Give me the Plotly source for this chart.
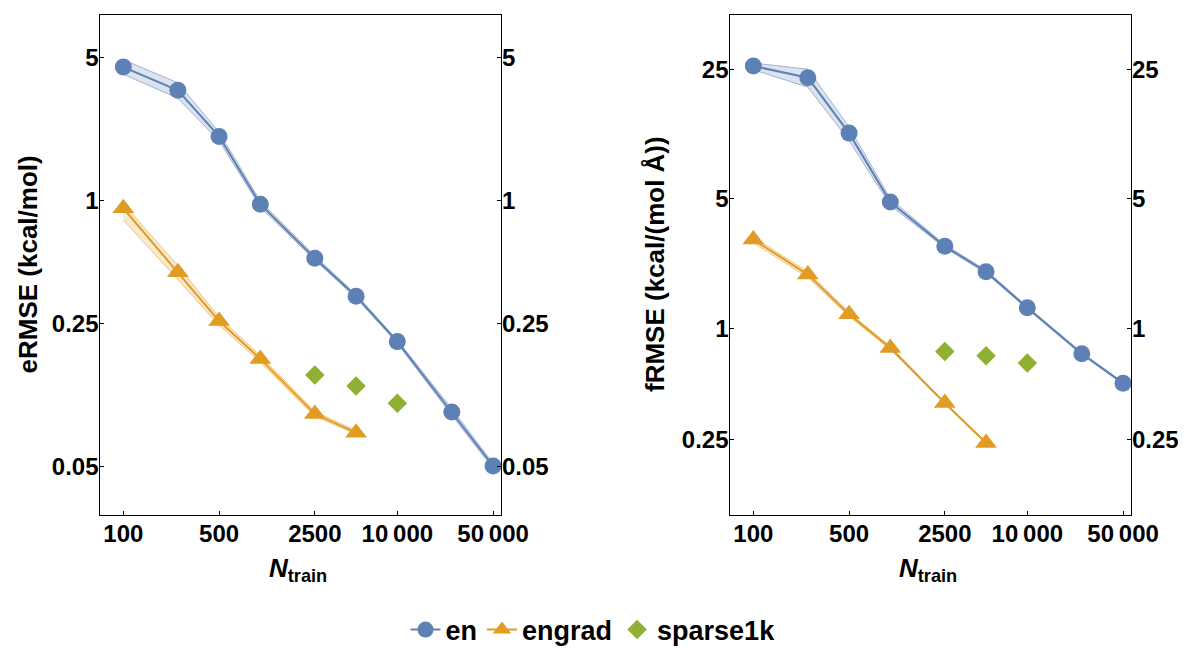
import plotly.graph_objects as go

# ---------------- data ----------------
n_en = [100, 250, 500, 1000, 2500, 5000, 10000, 25000, 50000]
n_engrad = [100, 250, 500, 1000, 2500, 5000]
n_sparse = [2500, 5000, 10000]

# energy RMSE (kcal/mol)
e_en = [4.47, 3.44, 2.05, 0.956, 0.521, 0.340, 0.204, 0.0924, 0.0504]
e_en_lo = [4.12, 3.15, 1.95, 0.925, 0.51, 0.333, 0.200, 0.089, 0.049]
e_en_hi = [4.85, 3.75, 2.15, 0.99, 0.535, 0.347, 0.208, 0.096, 0.052]
e_engrad = [0.914, 0.445, 0.257, 0.168, 0.0904, 0.0733]
e_engrad_lo = [0.80, 0.41, 0.245, 0.162, 0.088, 0.072]
e_engrad_hi = [0.96, 0.48, 0.268, 0.174, 0.093, 0.075]
e_sparse = [0.140, 0.124, 0.102]

# force RMSE (kcal/(mol Å))
f_en = [26.0, 22.5, 11.3, 4.80, 2.77, 2.02, 1.29, 0.729, 0.506]
f_en_lo = [24.8, 20.0, 10.3, 4.6, 2.72, 1.98, 1.27, 0.72, 0.50]
f_en_hi = [27.0, 25.0, 12.2, 5.0, 2.83, 2.06, 1.31, 0.74, 0.512]
f_engrad = [3.01, 1.95, 1.19, 0.783, 0.395, 0.241]
f_engrad_lo = [2.9, 1.88, 1.16, 0.77, 0.39, 0.238]
f_engrad_hi = [3.1, 2.02, 1.22, 0.80, 0.40, 0.244]
f_sparse = [0.750, 0.711, 0.650]

x_tickvals = [100, 500, 2500, 10000, 50000]
x_ticktext = ["100", "500", "2500", "10\u2009000", "50\u2009000"]
e_tickvals = [0.05, 0.25, 1, 5]
e_ticktext = ["0.05", "0.25", "1", "5"]
f_tickvals = [0.25, 1, 5, 25]
f_ticktext = ["0.25", "1", "5", "25"]

# ---------------- style ----------------
BLUE = "#5E81B5"
ORANGE = "#E19C24"
GREEN = "#8FB032"
FONT = "Liberation Sans"
# the page body has an 8px margin, so the figure is drawn at (8, 8)
OFF = 8
W, H = 1186 - OFF, 648 - OFF


def px(xpix):
    return (xpix - OFF) / W


def py(ypix):
    return 1 - (ypix - OFF) / H


fig = go.Figure()


def band(xs, lo, hi, color_rgb, xa, ya):
    fig.add_trace(go.Scatter(
        x=list(xs) + list(xs)[::-1],
        y=list(hi) + list(lo)[::-1],
        mode="lines", fill="toself",
        fillcolor="rgba(%d,%d,%d,0.22)" % color_rgb,
        line=dict(color="rgba(%d,%d,%d,0.55)" % color_rgb, width=1),
        hoverinfo="skip", showlegend=False, xaxis=xa, yaxis=ya))


blue_rgb = (94, 129, 181)
orange_rgb = (225, 156, 36)

panels = [
    ("x", "y", e_en, e_en_lo, e_en_hi, e_engrad, e_engrad_lo, e_engrad_hi, e_sparse, True),
    ("x2", "y2", f_en, f_en_lo, f_en_hi, f_engrad, f_engrad_lo, f_engrad_hi, f_sparse, False),
]
for xa, ya, en, enlo, enhi, eg, eglo, eghi, sp, leg in panels:
    band(n_en, enlo, enhi, blue_rgb, xa, ya)
    band(n_engrad, eglo, eghi, orange_rgb, xa, ya)
    fig.add_trace(go.Scatter(
        x=n_en, y=en, mode="lines+markers", name="en",
        line=dict(color=BLUE, width=2),
        marker=dict(symbol="circle", size=17, color=BLUE),
        showlegend=leg, legendgroup="en", xaxis=xa, yaxis=ya))
    fig.add_trace(go.Scatter(
        x=n_engrad, y=eg, mode="lines+markers", name="engrad",
        line=dict(color=ORANGE, width=2),
        marker=dict(symbol="triangle-up", size=19, color=ORANGE),
        showlegend=leg, legendgroup="engrad", xaxis=xa, yaxis=ya))
    fig.add_trace(go.Scatter(
        x=n_sparse, y=sp, mode="markers", name="sparse1k",
        marker=dict(symbol="diamond", size=15, color=GREEN),
        showlegend=leg, legendgroup="sparse1k", xaxis=xa, yaxis=ya))

# invisible traces so the mirrored right-hand axes are drawn
fig.add_trace(go.Scatter(x=[100], y=[1], mode="markers", marker=dict(opacity=0),
                         hoverinfo="skip", showlegend=False, xaxis="x", yaxis="y3"))
fig.add_trace(go.Scatter(x=[100], y=[1], mode="markers", marker=dict(opacity=0),
                         hoverinfo="skip", showlegend=False, xaxis="x2", yaxis="y4"))

tickfont = dict(family=FONT, size=24, color="black", weight="bold")

xdom1 = [px(99.5), px(501)]
xdom2 = [px(729.5), px(1131)]
ydom = [py(515), py(14.5)]
xrange_ = [1.826, 4.757]
erange = [-1.537, 0.907]
frange = [-1.007, 1.693]

common_x = dict(type="log", range=xrange_, tickvals=x_tickvals, ticktext=x_ticktext,
                ticks="inside", ticklen=4, tickwidth=1, tickcolor="black",
                showline=True, linecolor="black", linewidth=1.3, mirror=True,
                showgrid=False, zeroline=False, tickfont=tickfont, automargin=False,
                ticklabelstandoff=-3)
common_y = dict(type="log", ticks="inside", ticklen=4, tickwidth=1, tickcolor="black",
                showline=True, linecolor="black", linewidth=1.3,
                showgrid=False, zeroline=False, tickfont=tickfont, automargin=False,
                ticklabelstandoff=-5)

fig.update_layout(
    width=W, height=H,
    margin=dict(l=0, r=0, t=0, b=0, autoexpand=False),
    paper_bgcolor="white", plot_bgcolor="white",
    xaxis=dict(domain=xdom1, anchor="y", **common_x),
    xaxis2=dict(domain=xdom2, anchor="y2", **common_x),
    yaxis=dict(domain=ydom, anchor="x", range=erange, tickvals=e_tickvals,
               ticktext=e_ticktext, side="left", **common_y),
    yaxis3=dict(domain=ydom, anchor="x", overlaying="y", range=erange, tickvals=e_tickvals,
                ticktext=e_ticktext, side="right", **common_y),
    yaxis2=dict(domain=ydom, anchor="x2", range=frange, tickvals=f_tickvals,
                ticktext=f_ticktext, side="left", **common_y),
    yaxis4=dict(domain=ydom, anchor="x2", overlaying="y2", range=frange, tickvals=f_tickvals,
                ticktext=f_ticktext, side="right", **common_y),
    legend=dict(orientation="h", x=px(593), xanchor="center", y=py(630), yanchor="middle",
                font=dict(family=FONT, size=27, color="black", weight="bold"),
                itemsizing="trace", bgcolor="rgba(0,0,0,0)"),
    showlegend=True,
)

title_font = dict(family=FONT, size=26, color="black", weight="bold")
annotations = [
    dict(text="eRMSE (kcal/mol)", x=px(27), y=py(264.5), textangle=-90),
    dict(text="fRMSE (kcal/(mol Å))", x=px(655), y=py(264), textangle=-90),
    dict(text="<i>N</i><sub>train</sub>", x=px(298), y=py(569), textangle=0),
    dict(text="<i>N</i><sub>train</sub>", x=px(928), y=py(569), textangle=0),
]
for a in annotations:
    fig.add_annotation(xref="paper", yref="paper", xanchor="center", yanchor="middle",
                       showarrow=False, font=title_font, **a)

fig.write_html("out.html")
